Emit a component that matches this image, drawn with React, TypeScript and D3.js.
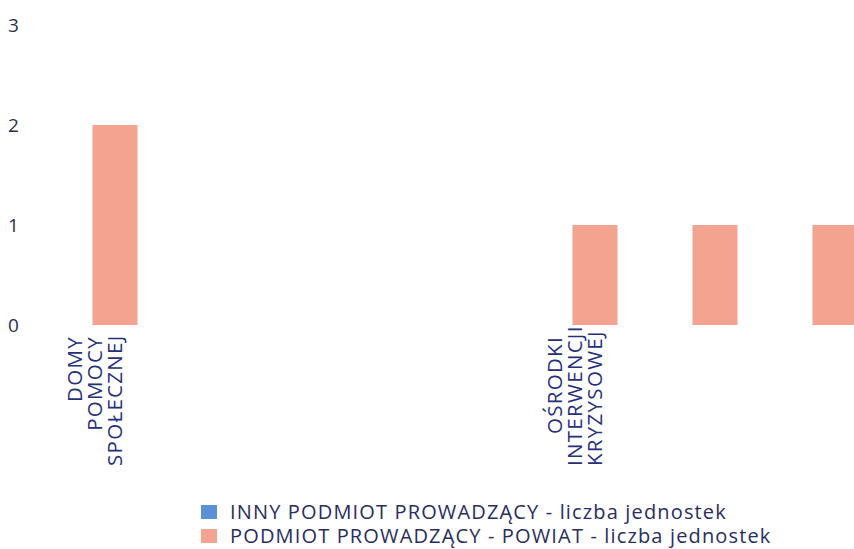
import React, { useEffect, useRef } from "react";
import * as d3 from "d3";

const categoryIds = ["c0", "c1", "c2", "c3", "c4", "c5", "c6"];
const categoryLabels: string[][] = [
  ["DOMY", "POMOCY", "SPOŁECZNEJ"],
  [],
  [],
  [],
  ["OŚRODKI", "INTERWENCJI", "KRYZYSOWEJ"],
  [],
  [],
];
const innyValues = [0, 0, 0, 0, 0, 0, 0];
const powiatValues = [2, 0, 0, 0, 1, 1, 1];
const yTicks = [0, 1, 2, 3];
const seriesNames = [
  "INNY PODMIOT PROWADZĄCY - liczba jednostek",
  "PODMIOT PROWADZĄCY - POWIAT - liczba jednostek",
];
const seriesColors = ["#5b8fd8", "#f4a391"];

const W = 854;
const H = 549;
const FONT = "'Open Sans', 'Noto Sans', sans-serif";

export default function App() {
  const ref = useRef<SVGSVGElement | null>(null);

  useEffect(() => {
    const svg = d3.select(ref.current);
    svg.selectAll("*").remove();

    const x = d3.scaleBand<string>().domain(categoryIds).range([55, 895]).paddingInner(0.625).paddingOuter(0.3125);
    const y = d3.scaleLinear().domain([0, 3]).range([325, 25]);

    // y tick labels
    svg
      .append("g")
      .selectAll("text")
      .data(yTicks)
      .join("text")
      .attr("x", 8)
      .attr("y", (d) => y(d))
      .attr("dy", "0.35em")
      .attr("font-family", FONT)
      .attr("font-size", 19)
      .attr("letter-spacing", 0.5)
      .attr("fill", "#2e2e48")
      .text((d) => String(d));

    // stacked bars
    const rows = categoryIds.map((id, i) => ({ id, inny: innyValues[i], powiat: powiatValues[i] }));
    const stack = d3.stack<any>().keys(["inny", "powiat"])(rows);
    svg
      .append("g")
      .selectAll("g")
      .data(stack)
      .join("g")
      .attr("fill", (_d, i) => seriesColors[i])
      .selectAll("rect")
      .data((s) => s)
      .join("rect")
      .attr("x", (d) => x(d.data.id) as number)
      .attr("width", x.bandwidth())
      .attr("y", (d) => y(d[1]))
      .attr("height", (d) => Math.max(0, y(d[0]) - y(d[1])));

    // x labels, clipped below the axis
    const defs = svg.append("defs");
    defs
      .append("clipPath")
      .attr("id", "xlabclip")
      .append("rect")
      .attr("x", 0)
      .attr("y", 325)
      .attr("width", W)
      .attr("height", 200);
    const lab = svg.append("g").attr("clip-path", "url(#xlabclip)");
    const boxTop = 336;
    const boxBottom = 466;
    const pitch = 20;
    categoryIds.forEach((id, i) => {
      const lines = categoryLabels[i];
      const cx = (x(id) as number) + x.bandwidth() / 2;
      const n = lines.length;
      lines.forEach((line, j) => {
        const bx = cx + 7 - pitch * (n - 1 - j);
        const t = lab
          .append("text")
          .attr("font-family", FONT)
          .attr("font-size", 20.5)
          .attr("letter-spacing", 1.3)
          .attr("fill", "#26307a")
          .text(line);
        const len = (t.node() as SVGTextElement).getComputedTextLength();
        if (len <= boxBottom - boxTop) {
          t.attr("text-anchor", "end").attr("transform", `translate(${bx},${boxTop}) rotate(-90)`);
        } else {
          t.attr("text-anchor", "start").attr("transform", `translate(${bx},${boxBottom}) rotate(-90)`);
        }
      });
    });

    // legend
    const leg = svg.append("g");
    seriesNames.forEach((name, i) => {
      const ly = 512 + i * 24;
      leg
        .append("rect")
        .attr("x", 201)
        .attr("y", ly - 7)
        .attr("width", 16)
        .attr("height", 14)
        .attr("fill", seriesColors[i]);
      leg
        .append("text")
        .attr("x", 230)
        .attr("y", ly)
        .attr("dy", "0.35em")
        .attr("font-family", FONT)
        .attr("font-size", 20)
        .attr("letter-spacing", 1.15)
        .attr("fill", "#2a2d5e")
        .text(name);
    });
  }, []);

  return (
    <svg
      ref={ref}
      width={W}
      height={H}
      style={{ position: "absolute", left: 0, top: 0, display: "block", background: "#fff" }}
    />
  );
}
